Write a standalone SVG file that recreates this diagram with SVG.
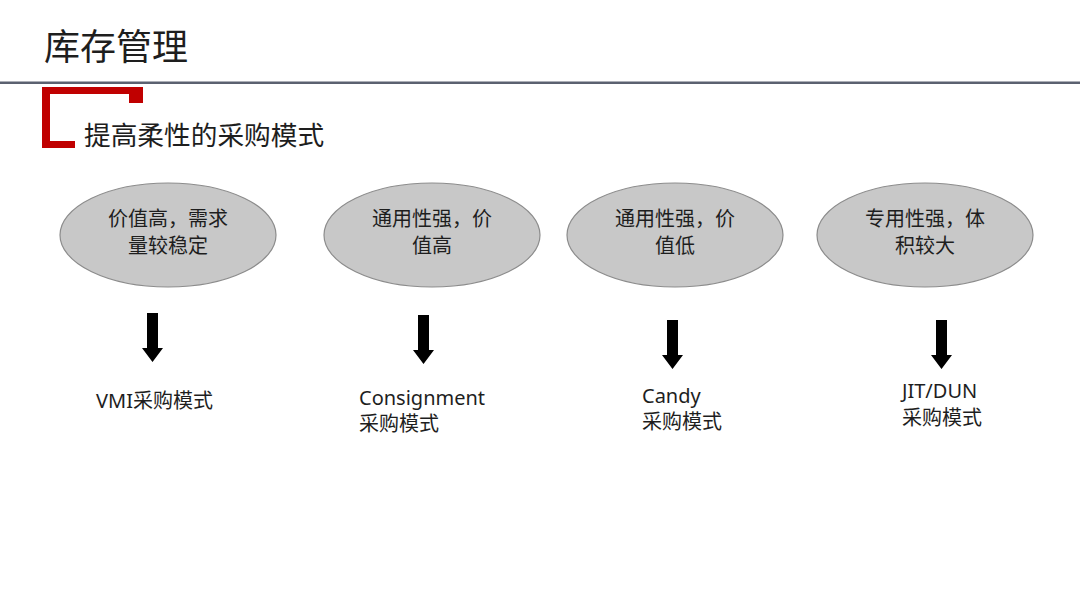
<svg xmlns="http://www.w3.org/2000/svg" width="1080" height="608" viewBox="0 0 1080 608">
<defs>
<style>
text{font-family:"Noto Sans","Noto Sans CJK SC",sans-serif;fill:#1e1e1e}
.node ellipse{fill:#c8c8c8;stroke:#8c8c8c;stroke-width:1.2}
.nt{font-size:20px;text-anchor:middle}
.lb{font-size:20px}
.arrow{fill:#000}
</style>
</defs>
<rect width="1080" height="608" fill="#fff"/>
<text x="44" y="60" style="font-size:36px">库存管理</text>
<rect x="0" y="81.5" width="1080" height="2.5" fill="#5b6170"/>
<polygon points="42,87 143,87 143,103 129,103 129,94 50,94 50,141 75,141 75,148 42,148" fill="#c00000"/>
<text x="84" y="145" style="font-size:26.7px">提高柔性的采购模式</text>

<g id="node1" class="node">
<ellipse cx="168" cy="235" rx="108" ry="52"/>
<text class="nt" x="168" y="226">价值高，需求</text>
<text class="nt" x="168" y="253">量较稳定</text>
</g>
<g id="node2" class="node">
<ellipse cx="432" cy="235" rx="108" ry="52"/>
<text class="nt" x="432" y="226">通用性强，价</text>
<text class="nt" x="432" y="253">值高</text>
</g>
<g id="node3" class="node">
<ellipse cx="675" cy="235" rx="108" ry="52"/>
<text class="nt" x="675" y="226">通用性强，价</text>
<text class="nt" x="675" y="253">值低</text>
</g>
<g id="node4" class="node">
<ellipse cx="925" cy="235" rx="108" ry="52"/>
<text class="nt" x="925" y="226">专用性强，体</text>
<text class="nt" x="925" y="253">积较大</text>
</g>

<g id="connectors">
<path class="arrow" d="M147,313 H158 V348 H163 L152.5,362 L142,348 H147 Z"/>
<path class="arrow" d="M418,315 H429 V350 H434 L423.5,364 L413,350 H418 Z"/>
<path class="arrow" d="M667,320 H678 V355 H683 L672.5,369 L662,355 H667 Z"/>
<path class="arrow" d="M936,320 H947 V355 H952 L941.5,369 L931,355 H936 Z"/>
</g>

<g id="label1"><text class="lb" x="96" y="408">VMI采购模式</text></g>
<g id="label2"><text class="lb" x="359" y="405">Consignment</text><text class="lb" x="359" y="431">采购模式</text></g>
<g id="label3"><text class="lb" x="642" y="403">Candy</text><text class="lb" x="642" y="429">采购模式</text></g>
<g id="label4"><text class="lb" x="902" y="398">JIT/DUN</text><text class="lb" x="902" y="425">采购模式</text></g>
</svg>
